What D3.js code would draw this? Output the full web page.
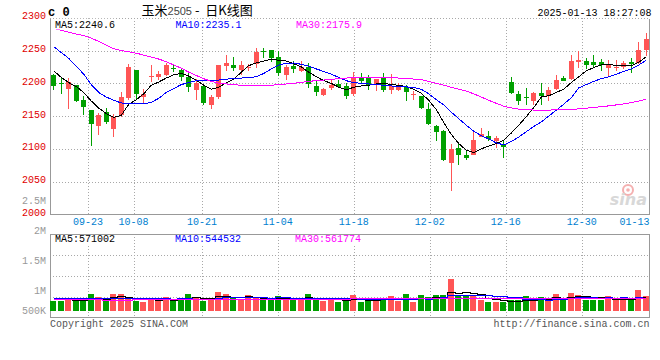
<!DOCTYPE html>
<html><head><meta charset="utf-8">
<script src="https://cdn.jsdelivr.net/npm/d3@7"></script>
<style>html,body{margin:0;padding:0;background:#fff;}svg{display:block}</style>
</head><body>
<svg id="c" width="660" height="360"></svg>
<script>
const dates = ["09-12","09-13","09-18","09-19","09-20","09-23","09-24","09-25","09-26","09-27","09-30","10-08","10-09","10-10","10-11","10-14","10-15","10-16","10-17","10-18","10-21","10-22","10-23","10-24","10-25","10-28","10-29","10-30","10-31","11-01","11-04","11-05","11-06","11-07","11-08","11-11","11-12","11-13","11-14","11-15","11-18","11-19","11-20","11-21","11-22","11-25","11-26","11-27","11-28","11-29","12-02","12-03","12-04","12-05","12-06","12-09","12-10","12-11","12-12","12-13","12-16","12-17","12-18","12-19","12-20","12-23","12-24","12-25","12-26","12-27","12-30","12-31","01-02","01-03","01-06","01-07","01-08","01-09","01-10","01-13"];
const opens = [2212.5,2201,2191,2197,2174.6,2159.3,2135.4,2156.2,2130.8,2151.1,2177.6,2219.8,2179.1,2210,2210.2,2213.2,2224,2219.8,2210.2,2190.3,2195.4,2166.4,2179.6,2226.5,2228,2220.4,2225,2229,2249.4,2250.9,2240.2,2213.2,2226,2218.8,2224.4,2195.9,2182.7,2192.9,2199.5,2195.9,2183.7,2208.1,2208.1,2198,2208.1,2190.3,2190.3,2193.9,2182.7,2181.2,2161.3,2135.4,2127.7,2078.9,2101.3,2091.1,2091.1,2118.6,2119.6,2111.5,2105.3,2202,2183.7,2179,2173.5,2185.2,2180.7,2191.3,2207.6,2207.1,2233.1,2234.6,2232,2233.1,2223.4,2224,2225.5,2233.1,2231,2250.4];
const highs = [2214,2208,2208,2198,2180.7,2159.3,2155.2,2162.3,2153.7,2186.3,2229,2219.8,2190.8,2227.5,2219.3,2231.6,2228,2223.9,2218.3,2206,2197,2181.7,2228.5,2242.7,2240.2,2233.6,2229.5,2254,2254,2250.9,2248.8,2228.5,2234.6,2233.6,2230.5,2203,2193.4,2206.1,2205,2200,2217.3,2215.8,2212.2,2206.6,2215.8,2214.2,2200,2197,2188.8,2181.2,2170,2135.9,2128.8,2107.4,2107.4,2098.7,2125.2,2131.8,2126.7,2119.6,2113.5,2209.7,2188.8,2192.9,2186.8,2200.5,2193.9,2213.2,2211.2,2243.8,2248.8,2238.7,2243.8,2237.7,2236.1,2236.1,2234.6,2238.7,2263.1,2277.4];
const lows = [2190,2184,2161,2172,2152.2,2104.8,2121.1,2137.9,2118.6,2148.1,2174,2174,2170,2201.5,2205,2211.2,2217,2203,2186.8,2175,2167.4,2161.3,2176.6,2219.3,2219.3,2213.2,2218.3,2223.4,2238.7,2232.6,2210.7,2205.6,2215.3,2217.3,2192.9,2181.2,2180.2,2190.3,2192.9,2176.6,2180.2,2200.5,2190.3,2187.8,2186.8,2183.7,2188.3,2172.5,2175,2161.3,2135.9,2112.5,2081.9,2035,2075.8,2083.5,2091.1,2117.6,2112.5,2101.3,2086,2183.7,2166.4,2166.4,2166.4,2166.4,2173.5,2189.8,2203,2205.1,2223.4,2222.4,2223.4,2219.3,2209.2,2219.3,2222.4,2215.8,2230,2241.7];
const closes = [2196,2199,2201.5,2173.5,2163.9,2137.9,2151.1,2141,2148.6,2178.6,2224.9,2183.7,2184.2,2211,2214.2,2228.5,2223,2210.2,2193.9,2200,2170.5,2179.6,2228.5,2231.6,2224,2228,2225.5,2247.8,2249,2239.2,2215.8,2225,2222.4,2224.4,2199,2186.8,2191.3,2198,2194.4,2180.7,2208.1,2204,2198,2206.6,2190.3,2195.4,2195.4,2187.3,2183.2,2162.3,2137.9,2126.2,2082.9,2100.3,2090.1,2086.5,2113.5,2122.6,2115.5,2116.5,2103.3,2184.7,2173.5,2178.1,2184.7,2181.2,2189.8,2205.1,2204,2234.6,2236.1,2228.5,2227.5,2228.5,2229.5,2224.4,2231,2230,2250.9,2268.2];
const ma5 = [2219,2209,2201,2195,2186,2173,2162,2154,2148,2151,2168,2175,2184,2197,2202,2208,2213,2215,2211,2205,2197,2191,2194,2201,2206,2217,2227,2231,2234,2237,2235,2234,2230,2225,2217,2210,2204,2200,2194,2190,2194,2196,2197,2199,2200,2198,2197,2195,2191,2185,2174,2160,2140,2122,2108,2098,2094,2100,2104,2108,2113,2124,2136,2149,2163,2179,2181,2186,2191,2201,2210,2219,2224,2228,2229,2227,2227,2227,2232,2240.6];
const ma10 = [2256,2247,2238,2226,2214,2198,2186,2179,2174,2170,2169,2168.5,2168.5,2171,2177,2186,2192,2198,2201,2204,2204,2204,2205,2206,2208,2208,2208.5,2210,2215,2222,2228,2230.5,2231,2229,2226,2222,2218,2214,2209,2204,2201,2200,2199,2198,2197,2196,2195,2194.5,2193.5,2191,2184,2175,2167,2156,2146,2136,2127,2120,2115,2109,2106,2111,2118,2126,2134,2141,2150,2159,2168,2178,2193,2198,2203,2207,2210,2214,2218,2222,2228,2235.1];
const ma30 = [2284,2281,2278,2275,2273,2269,2264,2258,2253,2250,2248,2246,2243,2240,2237,2233,2228,2223,2217,2212,2207,2203,2200,2199,2198,2197,2196,2196,2196.5,2197,2198,2199,2200,2201.5,2203,2204,2205,2206,2207,2208,2208.5,2209,2209,2209,2209,2208.5,2208,2207,2206.5,2205.5,2203,2200,2197,2194,2191,2188,2184,2179,2174,2169.5,2165,2162.5,2160.5,2159.5,2159.2,2159.2,2159.2,2159.3,2159.5,2160,2161,2162,2163,2164.5,2165.5,2167,2168.5,2170.5,2173,2175.9];
const volumes = [505,505,565,505,505,655,587,505,655,655,565,505,475,550,550,587,490,565,655,595,505,550,700,655,565,527,625,565,527,527,610,565,527,565,655,565,505,565,475,527,625,475,527,505,565,610,505,655,475,640,587,632,632,992,602,602,602,527,475,475,475,527,527,602,527,587,527,655,527,677,640,527,527,527,610,542,542,542,745,610].map(v => v * 1000);
const volMa5 = [545,540,535,530,517,547,563,551,581,611,593,577,571,550,529,533,530,548,569,578,562,574,601,601,595,599,614,587,562,554,571,559,551,559,584,575,563,571,553,527,539,533,526,532,539,536,542,568,562,577,572,598,593,697,689,692,686,665,562,536,511,496,496,521,532,554,554,580,565,595,605,605,580,580,566,547,550,553,596,590].map(v => v * 1000);
const volMa10 = [555,555,555,555,555,555,558,560,562,564,570,570,561,566,570,563,554,560,560,554,548,552,575,585,587,581,594,594,582,575,585,587,569,561,569,573,561,561,556,556,557,548,549,543,533,538,538,547,547,558,554,570,581,630,633,632,642,629,630,613,602,591,581,542,534,533,525,538,543,564,580,580,580,573,581,576,578,567,588,575].map(v => v * 1000);
const volMa30 = [535,535,534,534,533,533,533,532,532,532,532,533,533,534,534,535,535,536,536,537,538,539,540,541,542,543,544,545,546,547,548,549,550,551,552,552,553,553,554,554,555,555,556,556,556,557,557,557,558,558,558,559,559,565,566,567,568,568,569,569,569,570,570,570,571,571,571,572,572,572,572,573,573,573,573,574,574,574,574,575].map(v => v * 1000);
const priceTicks = [2300,2250,2200,2150,2100,2050,2000];
const dateTicks = ["09-23","10-08","10-21","11-04","11-18","12-02","12-16","12-30","01-13"];
const volTickValues = [2000000,1500000,1000000,500000];
const volTickLabels = ["2M","1.5M","1M","500K"];
const priceLegend = [{t:"MA5:2240.6", c:"#000000", x:55}, {t:"MA10:2235.1", c:"#0000ff", x:175.5}, {t:"MA30:2175.9", c:"#ff00ff", x:296}];
const volLegend = [{t:"MA5:571002", c:"#000000", x:55}, {t:"MA10:544532", c:"#0000ff", x:175}, {t:"MA30:561774", c:"#ff00ff", x:295}];

const RED = "#ff5555", GREEN = "#00a000", MONO = "'Liberation Mono', 'DejaVu Sans Mono', monospace";
const L = 50, R = 650, pTop = 17.8, pBot = 214.3, vTop = 234.3, vBot = 317.3, vBase = 310.7;
const svg = d3.select("#c");
const idx = d3.range(dates.length);
const x = d3.scaleBand().domain(idx).range([L, R]).paddingInner(0.25).paddingOuter(0.125);
const cx = i => x(i) + x.bandwidth() / 2;
const xDate = d3.scalePoint().domain(dates).range([L, R]);
const yP = d3.scaleLinear().domain([2000, 2300]).range([pBot, pTop]);
const yV = d3.scaleLinear().domain([280000, 2000000]).range([vBase, vTop]);
const yVLabel = d3.scaleLinear().domain([2000000, 500000]).range([230.7, 320.7]);
const px = v => Math.round(v) + 0.5;

const grid = svg.append("g").attr("stroke", "#a8a8a8").attr("stroke-dasharray", "1,2").attr("shape-rendering", "crispEdges");
priceTicks.forEach(p => {
  if (p === 2000) return;
  grid.append("line").attr("x1", L).attr("x2", R).attr("y1", px(yP(p))).attr("y2", px(yP(p)));
});
dateTicks.slice(0, -1).forEach(d => {
  const xx = px(xDate(d));
  grid.append("line").attr("x1", xx).attr("x2", xx).attr("y1", pTop).attr("y2", pBot);
  grid.append("line").attr("x1", xx).attr("x2", xx).attr("y1", vTop).attr("y2", vBot);
});
[1, 2, 3].forEach(k => {
  const yy = px(vTop + (vBot - vTop) * k / 4);
  grid.append("line").attr("x1", L).attr("x2", R).attr("y1", yy).attr("y2", yy);
});

const border = svg.append("g").attr("stroke", "#999").attr("fill", "none").attr("shape-rendering", "crispEdges");
border.append("line").attr("x1", px(L)).attr("x2", px(L)).attr("y1", px(pTop)).attr("y2", px(pBot));
border.append("line").attr("x1", px(R) - 1).attr("x2", px(R) - 1).attr("y1", px(pTop)).attr("y2", px(pBot));
border.append("line").attr("x1", px(L)).attr("x2", px(R) - 1).attr("y1", px(pBot)).attr("y2", px(pBot));
border.append("rect").attr("x", px(L)).attr("y", px(vTop)).attr("width", px(R) - 1 - px(L)).attr("height", px(vBot) - px(vTop));

const wm = svg.append("g");
wm.append("circle").attr("cx", 628).attr("cy", 190).attr("r", 5).attr("fill", "none").attr("stroke", "#f4b0b0").attr("stroke-width", 2);
wm.append("circle").attr("cx", 628).attr("cy", 190).attr("r", 1.8).attr("fill", "#f4b0b0");
wm.append("text").attr("x", 647).attr("y", 205).attr("text-anchor", "end").attr("font-family", "'DejaVu Sans', sans-serif")
  .attr("font-size", 16).attr("font-style", "italic").attr("font-weight", "bold").attr("fill", "#d8d8d8").text("sina");

const candles = svg.append("g").attr("shape-rendering", "crispEdges");
idx.forEach(i => {
  const up = closes[i] >= opens[i];
  const col = up ? RED : GREEN;
  const left = Math.floor(cx(i) - 3);
  const wx = left + 3.5;
  candles.append("line").attr("x1", wx).attr("x2", wx).attr("y1", yP(highs[i])).attr("y2", yP(lows[i])).attr("stroke", col);
  const yt = yP(Math.max(opens[i], closes[i])), yb = yP(Math.min(opens[i], closes[i]));
  candles.append("rect").attr("x", left + 1).attr("width", 5).attr("y", Math.round(yt)).attr("height", Math.max(1, Math.round(yb) - Math.round(yt))).attr("fill", col);
});

const lineP = d3.line().x((d, i) => cx(i)).y(d => yP(d));
[[ma5, "#000000"], [ma10, "#0000ff"], [ma30, "#ff00ff"]].forEach(([arr, col]) => {
  svg.append("path").attr("d", lineP(arr)).attr("fill", "none").attr("stroke", col).attr("stroke-width", 1).attr("shape-rendering", "crispEdges");
});

const vbars = svg.append("g").attr("shape-rendering", "crispEdges");
idx.forEach(i => {
  const up = closes[i] >= opens[i];
  const left = Math.floor(cx(i) - 3);
  const yt = Math.round(yV(volumes[i]));
  vbars.append("rect").attr("x", left).attr("width", 6).attr("y", yt).attr("height", Math.round(vBase) - yt).attr("fill", up ? RED : GREEN);
});
const lineV = d3.line().x((d, i) => cx(i)).y(d => Math.round(yV(d)) + 0.5).curve(d3.curveStep);
[[volMa5, "#000000"], [volMa10, "#0000ff"], [volMa30, "#ff00ff"]].forEach(([arr, col]) => {
  svg.append("path").attr("d", lineV(arr)).attr("fill", "none").attr("stroke", col).attr("stroke-width", 1).attr("shape-rendering", "crispEdges");
});

function legend(items, top, base) {
  items.forEach(it => {
    const w = it.t.length * 6;
    svg.append("rect").attr("x", it.x - 1).attr("y", top + 1).attr("width", w + 2).attr("height", base - top + 1).attr("fill", "#fff");
    svg.append("text").attr("x", it.x).attr("y", base).attr("font-family", MONO).attr("font-size", 10).attr("fill", it.c).text(it.t);
  });
}
legend(priceLegend, pTop, 27.5);
legend(volLegend, vTop, 242);

priceTicks.forEach(p => {
  svg.append("text").attr("x", 46).attr("y", yP(p) + 1.5).attr("text-anchor", "end").attr("font-family", MONO).attr("font-size", 10).attr("fill", "#e00000").text(p);
});
svg.append("text").attr("x", 46).attr("y", 203.8).attr("text-anchor", "end").attr("font-family", MONO).attr("font-size", 10).attr("fill", "#999").text("2.5M");

dateTicks.forEach((d, k) => {
  const last = k === dateTicks.length - 1;
  svg.append("text").attr("x", last ? 649.5 : xDate(d)).attr("y", 224.5).attr("text-anchor", last ? "end" : "middle")
    .attr("font-family", MONO).attr("font-size", 10).attr("fill", "#0080d0").text(d);
});

volTickValues.forEach((v, k) => {
  svg.append("text").attr("x", 46).attr("y", Math.min(310, yVLabel(v)) + 3.5).attr("text-anchor", "end")
    .attr("font-family", MONO).attr("font-size", 10).attr("fill", "#999").text(volTickLabels[k]);
});

svg.append("text").attr("x", 48).attr("y", 15.5).attr("font-family", MONO).attr("font-size", 12).attr("font-weight", "bold").attr("fill", "#000").text("c 0");
const title = svg.append("text").attr("x", 141.5).attr("y", 15.3).attr("font-family", "'Noto Sans CJK SC', sans-serif").attr("font-size", 13).attr("fill", "#000");
title.append("tspan").text("玉米");
title.append("tspan").attr("font-family", "'Liberation Sans', Arial, sans-serif").attr("font-size", 11).attr("fill", "#444").text("2505");
title.append("tspan").attr("xml:space", "preserve").text("\u00a0-\u00a0\u00a0日K线图");
svg.append("text").attr("x", 651.5).attr("y", 15.5).attr("text-anchor", "end").attr("font-family", MONO).attr("font-size", 10).attr("fill", "#000").text("2025-01-13 18:27:08");

svg.append("text").attr("x", 50).attr("y", 327).attr("font-family", MONO).attr("font-size", 10).attr("fill", "#555").text("Copyright 2025 SINA.COM");
svg.append("text").attr("x", 649.5).attr("y", 327).attr("text-anchor", "end").attr("font-family", MONO).attr("font-size", 10).attr("fill", "#555").text("http://finance.sina.com.cn");
</script>
</body></html>
